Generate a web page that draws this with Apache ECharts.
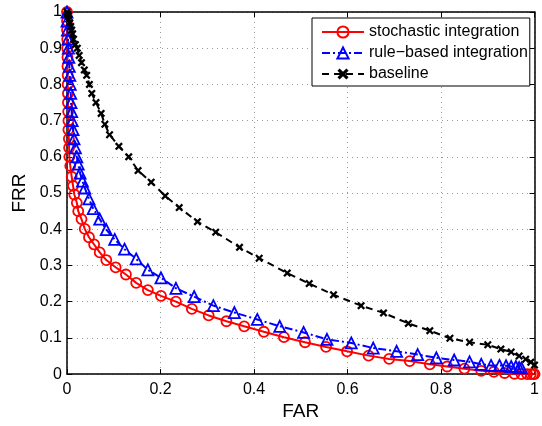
<!DOCTYPE html>
<html><head><meta charset="utf-8">
<script src="https://cdn.jsdelivr.net/npm/echarts@6/dist/echarts.min.js"></script>
<style>html,body{margin:0;padding:0;background:#fff}#c{width:542px;height:426px}</style>
</head><body><div id="c"></div>
<script>
const seriesNames = ['stochastic integration', 'rule\u2212based integration', 'baseline'];

const stochFAR = [0,0,0,0.0005,0.0005,0.001,0.001,0.0015,0.0015,0.002,0.002,0.0025,0.003,0.003,0.004,0.0045,0.005,0.007,0.010,0.013,0.0156,0.021,0.024,0.031,0.038,0.047,0.058,0.070,0.084,0.104,0.126,0.148,0.173,0.201,0.233,0.267,0.303,0.341,0.379,0.421,0.464,0.509,0.554,0.599,0.645,0.689,0.733,0.776,0.813,0.850,0.886,0.913,0.936,0.957,0.972,0.984,0.992,0.997,1.0];
const stochFRR = [1,0.975,0.95,0.925,0.90,0.875,0.85,0.825,0.80,0.775,0.75,0.725,0.70,0.675,0.65,0.625,0.60,0.575,0.545,0.52,0.496,0.473,0.450,0.428,0.401,0.378,0.358,0.336,0.315,0.295,0.275,0.252,0.232,0.216,0.200,0.180,0.162,0.146,0.132,0.117,0.102,0.088,0.075,0.063,0.051,0.042,0.036,0.027,0.021,0.015,0.009,0.0065,0.003,0.001,0,0,0,0,0];

const ruleFAR = [0,0,0.001,0.002,0.003,0.004,0.005,0.006,0.007,0.008,0.0085,0.010,0.011,0.013,0.015,0.018,0.021,0.024,0.028,0.033,0.038,0.047,0.056,0.070,0.084,0.102,0.123,0.148,0.173,0.201,0.233,0.272,0.313,0.358,0.407,0.455,0.506,0.556,0.608,0.655,0.705,0.750,0.790,0.828,0.861,0.886,0.907,0.925,0.939,0.950,0.960,0.967,0.972];
const ruleFRR = [1,0.975,0.95,0.925,0.90,0.875,0.85,0.825,0.80,0.775,0.75,0.725,0.70,0.675,0.65,0.625,0.60,0.58,0.555,0.533,0.514,0.484,0.457,0.428,0.399,0.372,0.345,0.318,0.288,0.266,0.237,0.214,0.189,0.170,0.151,0.132,0.115,0.096,0.086,0.072,0.063,0.054,0.045,0.039,0.034,0.027,0.024,0.024,0.023,0.021,0.021,0.018,0.017];

const baseFAR = [0,0.001,0.003,0.004,0.006,0.008,0.010,0.012,0.014,0.018,0.022,0.026,0.031,0.037,0.042,0.048,0.053,0.062,0.073,0.081,0.091,0.111,0.132,0.152,0.180,0.210,0.240,0.279,0.318,0.369,0.411,0.471,0.518,0.570,0.629,0.677,0.730,0.776,0.819,0.861,0.900,0.928,0.950,0.967,0.981,0.992,1.0];
const baseFRR = [1,0.995,0.99,0.98,0.97,0.96,0.95,0.94,0.925,0.91,0.90,0.88,0.86,0.84,0.825,0.80,0.775,0.75,0.72,0.69,0.661,0.629,0.600,0.562,0.530,0.492,0.460,0.421,0.392,0.350,0.320,0.279,0.250,0.219,0.189,0.169,0.140,0.120,0.099,0.088,0.081,0.069,0.061,0.050,0.041,0.033,0.025];

const xTickStep = 0.2;
const yTickStep = 0.1;

function zip(a, b) { return a.map((v, i) => [v, b[i]]); }

const FONT = '"Liberation Sans", Arial, Helvetica, sans-serif';
const X_PATH = 'path://M0,2 L2,0 L5,3 L8,0 L10,2 L7,5 L10,8 L8,10 L5,7 L2,10 L0,8 L3,5 Z';

const chart = echarts.init(document.getElementById('c'), null, {renderer: 'canvas'});

function axisCommon(extra) {
  return Object.assign({
    type: 'value', min: 0, max: 1,
    axisLine: {show: true, onZero: false, lineStyle: {color: '#000', width: 1.5}},
    axisTick: {show: true, inside: true, length: 5, lineStyle: {color: '#000', width: 1}},
    axisLabel: {color: '#000', fontSize: 16, fontFamily: FONT},
    splitLine: {show: false}
  }, extra);
}

chart.setOption({
  animation: false,
  backgroundColor: '#fff',
  grid: {left: 67, right: 5, top: 12, bottom: 44, containLabel: false},
  xAxis: [
    axisCommon({position: 'bottom', interval: xTickStep,
      axisLabel: {color: '#000', fontSize: 16, fontFamily: FONT, margin: 7},
      splitLine: {show: true, lineStyle: {color: '#999', width: 1, type: [1, 4]}},
      name: 'FAR', nameLocation: 'middle', nameGap: 27,
      nameTextStyle: {fontSize: 19, color: '#000', fontFamily: FONT, verticalAlign: 'top'}}),
    axisCommon({position: 'top', interval: xTickStep, axisLabel: {show: false}})
  ],
  yAxis: [
    axisCommon({position: 'left', interval: yTickStep,
      axisLabel: {color: '#000', fontSize: 16, fontFamily: FONT, margin: 5},
      splitLine: {show: true, lineStyle: {color: '#999', width: 1, type: [1, 4]}},
      name: 'FRR', nameLocation: 'middle', nameGap: 37,
      nameTextStyle: {fontSize: 19, color: '#000', fontFamily: FONT, verticalAlign: 'bottom'}}),
    axisCommon({position: 'right', interval: yTickStep, axisLabel: {show: false}})
  ],
  legend: {
    orient: 'vertical', left: 312, top: 18,
    backgroundColor: '#fff', borderColor: '#000', borderWidth: 1, borderRadius: 0,
    padding: [6, 2, 4, 9], itemWidth: 42, itemHeight: 14, itemGap: 5,
    textStyle: {fontSize: 16, color: '#000', fontFamily: FONT},
    data: seriesNames
  },
  series: [
    {
      name: seriesNames[0], type: 'line', xAxisIndex: 0, yAxisIndex: 0,
      data: zip(stochFAR, stochFRR), showAllSymbol: true,
      symbol: 'circle', symbolSize: 10,
      lineStyle: {color: '#ff0000', width: 2},
      itemStyle: {color: 'rgba(255,255,255,0)', borderColor: '#ff0000', borderWidth: 1.8},
      z: 2
    },
    {
      name: seriesNames[1], type: 'line', xAxisIndex: 0, yAxisIndex: 0,
      data: zip(ruleFAR, ruleFRR), showAllSymbol: true,
      symbol: 'triangle', symbolSize: 11,
      lineStyle: {color: '#0000ff', width: 2, type: [8, 3, 2, 3]},
      itemStyle: {color: 'rgba(255,255,255,0)', borderColor: '#0000ff', borderWidth: 1.8},
      z: 3
    },
    {
      name: seriesNames[2], type: 'line', xAxisIndex: 0, yAxisIndex: 0,
      data: zip(baseFAR, baseFRR), showAllSymbol: true,
      symbol: X_PATH, symbolSize: 8,
      lineStyle: {color: '#000', width: 2, type: [7, 5]},
      itemStyle: {color: '#000'},
      z: 4
    }
  ]
});
</script>
</body></html>
